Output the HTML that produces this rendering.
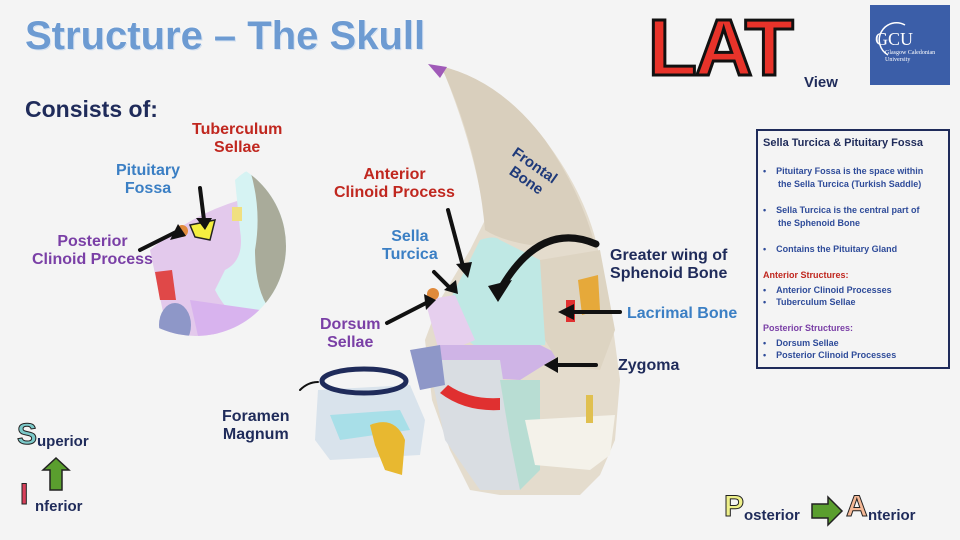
<!DOCTYPE html>
<html><head><meta charset="utf-8"><style>
html,body{margin:0;padding:0}
body{width:960px;height:540px;background:#f4f4f4;position:relative;overflow:hidden;font-family:"Liberation Sans",sans-serif;font-weight:bold}
.t{position:absolute;white-space:nowrap;line-height:1.1}
.c{text-align:center}
</style></head><body>
<svg width="960" height="540" style="position:absolute;left:0;top:0">
<defs><clipPath id="cc"><circle cx="196" cy="246" r="90"/></clipPath></defs>
<g clip-path="url(#cc)">
<path d="M150 250 Q190 215 240 200 L265 300 Q240 335 170 345 Z" fill="#e3c9ec"/>
<path d="M235 180 Q250 165 270 165 L300 170 L300 340 L260 330 Q230 320 215 290 L225 270 Q245 260 240 230 Z" fill="#d6f3f3"/>
<path d="M250 170 Q275 165 290 175 L300 300 L270 310 Q255 290 255 250 Q262 210 250 170Z" fill="#a9ab9a"/>
<path d="M190 300 L260 310 L260 345 L200 345Z" fill="#d8b3ee"/>
<path d="M155 272 L172 270 L176 300 L160 300Z" fill="#e04848"/>
<ellipse cx="175" cy="325" rx="16" ry="22" fill="#8e97c8"/>
<path d="M190 225 L215 220 L210 240 L195 237Z" fill="#f4ee40" stroke="#222" stroke-width="1.5"/>
<circle cx="182" cy="231" r="6" fill="#e08a3c"/>
<rect x="232" y="207" width="10" height="14" fill="#f0e080"/>
</g>
<!-- skull -->
<path d="M440 66 Q500 80 545 140 Q590 200 600 260 L612 320 L620 380 L615 440 L600 475 L580 495 L500 495 L470 490 L450 450 L432 400 L425 340 L440 300 L470 250 L485 220 Q475 150 445 75Z" fill="#e4dccd"/>
<path d="M440 66 Q500 80 545 140 Q580 190 595 245 L560 240 L530 245 Q500 240 485 230 Q478 150 445 75Z" fill="#d9cfbd"/>
<path d="M480 240 Q495 235 500 240 L520 250 L540 260 L550 300 L545 345 L480 350 L455 330 L450 300 Z" fill="#bfe8e4"/>
<path d="M425 300 L455 295 L475 340 L440 355 Z" fill="#e6cfee"/>
<path d="M440 345 L540 345 L560 355 L520 380 L440 375Z" fill="#cfb4e6"/>
<path d="M428 360 L500 360 L520 490 L480 490 L445 440 Z" fill="#d9dde2"/>
<path d="M500 380 L540 380 L540 470 L520 490 L510 440 Z" fill="#b8ddd3"/>
<path d="M540 260 L600 250 L615 330 L600 370 L560 365 L545 340 Z" fill="#ddd4c2"/>
<path d="M525 420 L615 415 L610 455 L590 470 L535 465Z" fill="#f4f2ea"/>
<path d="M578 280 L598 275 L600 310 L582 315Z" fill="#e6a93a"/>
<rect x="566" y="300" width="9" height="22" fill="#e03030"/>
<path d="M448 385 Q470 400 500 398 L500 410 Q465 412 440 393Z" fill="#e03030"/>
<rect x="586" y="395" width="7" height="28" fill="#e0c050"/>
<path d="M428 64 L447 67 L440 78Z" fill="#a05ab8"/>
<path d="M318 390 L410 385 L425 420 L420 455 L330 460 L315 440Z" fill="#d9e3ec"/>
<path d="M330 415 L400 410 L410 430 L340 440Z" fill="#a8dfe8"/>
<path d="M370 425 Q395 415 405 440 L402 475 L385 470 L375 445Z" fill="#e8b830"/>
<path d="M410 350 L440 345 L445 385 L420 390Z" fill="#8e97c8"/>
<ellipse cx="364" cy="381" rx="42" ry="12" fill="none" stroke="#1f2b5a" stroke-width="5"/>
<circle cx="433" cy="294" r="6" fill="#e08a3c"/>
<!-- arrows -->
<g stroke="#111" stroke-width="4" fill="none" stroke-linecap="round">
<path d="M140 250 L176 232"/><path d="M200 188 L204 220"/>
<path d="M448 210 L464 270"/><path d="M434 272 L450 288"/>
<path d="M387 323 L428 302"/><path d="M596 244 Q540 220 500 290" stroke-width="7"/>
<path d="M620 312 L572 312"/><path d="M596 365 L556 365"/>
<path d="M300 390 Q308 382 318 382" stroke-width="2"/>
</g>
<g fill="#111">
<path d="M178 224 L186 236 L170 240Z"/><path d="M196 218 L212 218 L205 230Z"/>
<path d="M456 264 L472 262 L468 278Z"/><path d="M444 290 L456 280 L458 294Z"/>
<path d="M424 294 L436 300 L426 310Z"/><path d="M488 286 L512 280 L498 302Z"/>
<path d="M574 304 L558 312 L574 320Z"/><path d="M558 357 L544 365 L558 373Z"/>
</g>
<!-- GCU -->
<rect x="870" y="5" width="80" height="80" fill="#3b5ea8"/>
<path d="M888 55 A16 16 0 0 1 905 25" fill="none" stroke="#fff" stroke-width="1.5"/>
<!-- side box -->
<rect x="757" y="130" width="192" height="238" fill="#f4f4f4" stroke="#1f2b5a" stroke-width="2"/>
<!-- orientation arrows -->
<path d="M50 490 L50 470 L43 470 L56 458 L69 470 L62 470 L62 490Z" fill="#5a9e2e" stroke="#222" stroke-width="1.5"/>
<path d="M812 504 L828 504 L828 497 L842 511 L828 525 L828 518 L812 518Z" fill="#5a9e2e" stroke="#222" stroke-width="1.5"/>
</svg>
<div class="t" style="left:25px;top:14px;font-size:40px;color:#6d9bd2;text-shadow:0 0 2px #fff,1px 1px 0 #c8d8ec">Structure – The Skull</div>
<div class="t" style="left:648px;top:4px;font-size:80px;color:#e8332a;-webkit-text-stroke:3px #111;letter-spacing:-2px">LAT</div>
<div class="t" style="left:804px;top:75px;font-size:15px;color:#1f2b5a">View</div>
<div class="t" style="left:875px;top:30px;font-size:18px;color:#fff;font-family:'Liberation Serif',serif;font-weight:normal">GCU</div>
<div class="t" style="left:885px;top:50px;font-size:6px;color:#fff;font-weight:normal;font-family:'Liberation Serif',serif">Glasgow Caledonian<br>University</div>
<div class="t" style="left:25px;top:97px;font-size:23px;color:#1f2b5a">Consists of:</div>
<div class="t c" style="left:192px;top:121px;font-size:16px;color:#c0271f">Tuberculum<br>Sellae</div>
<div class="t c" style="left:116px;top:162px;font-size:16px;color:#3b7fc4">Pituitary<br>Fossa</div>
<div class="t c" style="left:32px;top:233px;font-size:16px;color:#7a3fa6">Posterior<br>Clinoid Process</div>
<div class="t c" style="left:334px;top:166px;font-size:16px;color:#c0271f">Anterior<br>Clinoid Process</div>
<div class="t" style="left:518px;top:145px;font-size:15px;color:#1f3a7a;transform:rotate(35deg);transform-origin:left top">Frontal<br>&nbsp;&nbsp;Bone</div>
<div class="t c" style="left:382px;top:228px;font-size:16px;color:#3b7fc4">Sella<br>Turcica</div>
<div class="t c" style="left:610px;top:247px;font-size:16px;color:#1f2b5a">Greater wing of<br>Sphenoid Bone</div>
<div class="t" style="left:627px;top:305px;font-size:16px;color:#3b7fc4">Lacrimal Bone</div>
<div class="t c" style="left:320px;top:316px;font-size:16px;color:#7a3fa6">Dorsum<br>Sellae</div>
<div class="t" style="left:618px;top:357px;font-size:16px;color:#1f2b5a">Zygoma</div>
<div class="t c" style="left:222px;top:408px;font-size:16px;color:#1f2b5a">Foramen<br>Magnum</div>
<div class="t" style="left:763px;top:137px;font-size:11px;color:#1f2b5a">Sella Turcica &amp; Pituitary Fossa</div>
<div class="t" style="left:763px;top:165px;font-size:9px;color:#2f4c9a;line-height:13px">•&nbsp;&nbsp;&nbsp;&nbsp;Pituitary Fossa is the space within<br>&nbsp;&nbsp;&nbsp;&nbsp;&nbsp;&nbsp;the Sella Turcica (Turkish Saddle)<br><br>•&nbsp;&nbsp;&nbsp;&nbsp;Sella Turcica is the central part of<br>&nbsp;&nbsp;&nbsp;&nbsp;&nbsp;&nbsp;the Sphenoid Bone<br><br>•&nbsp;&nbsp;&nbsp;&nbsp;Contains the Pituitary Gland</div>
<div class="t" style="left:763px;top:271px;font-size:9px;color:#c0271f">Anterior Structures:</div>
<div class="t" style="left:763px;top:284px;font-size:9px;color:#2f4c9a;line-height:12px">•&nbsp;&nbsp;&nbsp;&nbsp;Anterior Clinoid Processes<br>•&nbsp;&nbsp;&nbsp;&nbsp;Tuberculum Sellae</div>
<div class="t" style="left:763px;top:324px;font-size:9px;color:#7a3fa6">Posterior Structures:</div>
<div class="t" style="left:763px;top:337px;font-size:9px;color:#2f4c9a;line-height:12px">•&nbsp;&nbsp;&nbsp;&nbsp;Dorsum Sellae<br>•&nbsp;&nbsp;&nbsp;&nbsp;Posterior Clinoid Processes</div>
<div class="t" style="left:17px;top:418px;font-size:30px;color:#7cc9c9;-webkit-text-stroke:1px #222">S</div>
<div class="t" style="left:37px;top:434px;font-size:15px;color:#1f2b5a">uperior</div>
<div class="t" style="left:20px;top:478px;font-size:30px;color:#d8405a;-webkit-text-stroke:1px #222">I</div>
<div class="t" style="left:35px;top:499px;font-size:15px;color:#1f2b5a">nferior</div>
<div class="t" style="left:724px;top:490px;font-size:30px;color:#eef08a;-webkit-text-stroke:1px #222">P</div>
<div class="t" style="left:744px;top:508px;font-size:15px;color:#1f2b5a">osterior</div>
<div class="t" style="left:846px;top:490px;font-size:30px;color:#f5b896;-webkit-text-stroke:1px #222">A</div>
<div class="t" style="left:868px;top:508px;font-size:15px;color:#1f2b5a">nterior</div>
</body></html>
